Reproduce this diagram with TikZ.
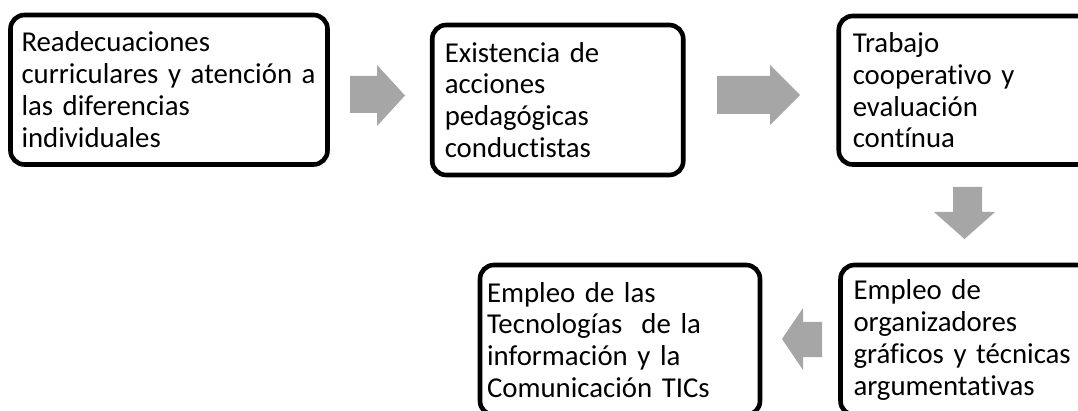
\documentclass[tikz,border=0pt]{standalone}
\usepackage{fontspec}
\setmainfont{Carlito}[RawFeature=-liga]
\begin{document}
\begin{tikzpicture}[x=1pt,y=-1pt,
  stepbox/.style={draw=black, line width=4.6pt, rounded corners=14pt, fill=white,
    align=left, anchor=center, inner ysep=0pt, inner xsep=11pt,
    font=\fontsize{28.8}{31.8}\selectfont},
  blockarrow/.style={fill=arrowgray, draw=none}]
\definecolor{arrowgray}{RGB}{166,166,166}
\useasboundingbox (0,0) rectangle (1078,411);
\begin{scope}
\clip (0,0) rectangle (1078,411);
\node[stepbox, minimum width=317pt, minimum height=149.5pt, text width=299pt, inner xsep=9pt] (b1) at (169,89.75)
  {\hspace*{2pt}Readecuaciones\\\hspace*{2pt}curriculares y atención a\\\hspace*{2pt}las diferencias\\\hspace*{2pt}individuales};
\node[stepbox, minimum width=250.5pt, minimum height=150pt, text width=226pt, inner xsep=12.5pt] (b2) at (557.75,100)
  {Existencia de\\acciones\\pedagógicas\\conductistas};
\node[stepbox, minimum width=250.5pt, minimum height=148.5pt, text width=224pt, inner xsep=14pt] (b3) at (964.75,90.25)
  {Trabajo\\cooperativo y\\evaluación\\contínua};
\node[stepbox, minimum width=250pt, minimum height=150pt, text width=224pt, inner xsep=13pt] (b5) at (965.5,340)
  {Empleo de\\organizadores\\gráficos y técnicas\\argumentativas};
\node[stepbox, minimum width=280pt, minimum height=150pt, text width=266pt, inner xsep=5pt] (b4) at (620,340)
  {Empleo de las\\Tecnologías~ de la\\información y la\\Comunicación TICs};
\end{scope}
% block arrows
\fill[blockarrow] (350,76) -- (377,76) -- (377,65) -- (405,95.5) -- (377,126) -- (377,113) -- (350,113) -- cycle;
\fill[blockarrow] (717,76) -- (770,76) -- (770,65) -- (800,95) -- (770,125) -- (770,114) -- (717,114) -- cycle;
\fill[blockarrow] (953,187) -- (982,187) -- (982,212) -- (995,212) -- (964.5,239) -- (934,212) -- (953,212) -- cycle;
\fill[blockarrow] (822,322) -- (803,322) -- (803,308) -- (782,339) -- (803,370) -- (803,357) -- (822,357) -- cycle;
\end{tikzpicture}
\end{document}
